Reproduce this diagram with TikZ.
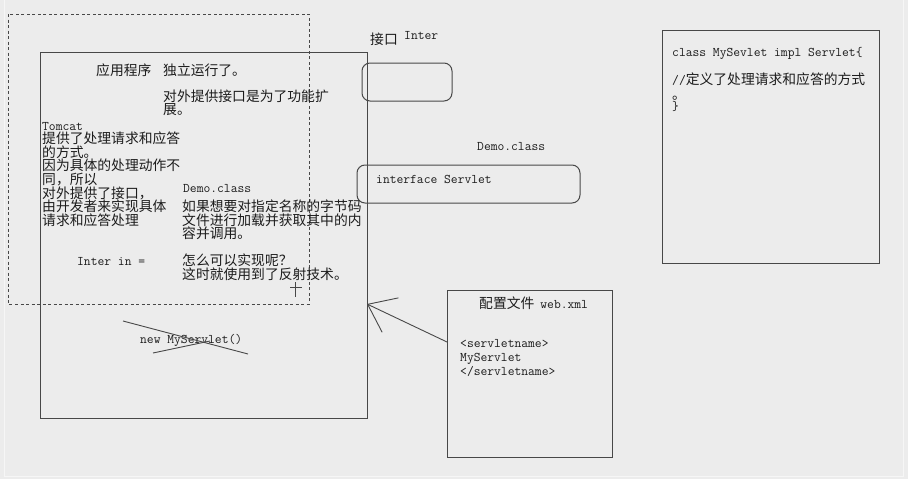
\documentclass[tikz,border=0pt]{standalone}
\usepackage{fontspec}
\newfontfamily\cjk{Noto Sans CJK SC}
\usetikzlibrary{arrows.meta}
\definecolor{bgc}{RGB}{236,236,236}
\definecolor{linec}{RGB}{72,72,72}
\definecolor{txtc}{RGB}{28,28,28}
\newcommand\lat[1]{{\ttfamily\fontsize{13.2}{13.6}\selectfont #1}}
\tikzset{
  box/.style={draw=linec, line width=1pt, inner sep=0pt, outer sep=0pt, anchor=north west},
  rbox/.style={box, rounded corners=8pt},
  zh/.style={inner sep=0pt, anchor=base west, text=txtc, align=left, font=\cjk\fontsize{13.8}{13.6}\selectfont},
  en/.style={inner sep=0pt, anchor=base west, text=txtc, align=left, font=\ttfamily\fontsize{13.2}{14}\selectfont},
}

\begin{document}
\begin{tikzpicture}[x=1pt,y=-1pt]
                \fill[bgc] (0,0) rectangle (908,479);
                \useasboundingbox (0,0) rectangle (908,479);
                \draw[white!55!bgc] (4,-1) rectangle (903,476);
                % dashed frame
                \draw[linec, line width=0.9pt, dash pattern=on 3pt off 2.5pt] (8,14) rectangle (309,304);
                % boxes
                \node[box, minimum width=327pt, minimum height=366pt] (app) at (40,52) {};
                \node[rbox, minimum width=90pt, minimum height=38pt] (inter) at (362,63) {};
                \node[rbox, minimum width=223pt, minimum height=38pt] (servlet) at (357,165) {};
                \node[box, minimum width=165pt, minimum height=167pt] (config) at (447,290) {};
                \node[box, minimum width=217pt, minimum height=233pt] (impl) at (662,30) {};
                % texts in app (base = last line)
                \node[zh] (apptitle) at (96,75.5) {应用程序};
                \node[zh] (run) at (163,75.5) {独立运行了。};
                \node[zh] (ext) at (163,114.6) {对外提供接口是为了功能扩\\展。};
                \node[zh] (tomcat) at (42,225.2) {\lat{Tomcat}\\提供了处理请求和应答\\的方式。\\因为具体的处理动作不\\同，所以\\对外提供了接口，\\由开发者来实现具体\\请求和应答处理};
                \node[en] (demo) at (183,192) {Demo.class};
                \node[zh] (load) at (182,238.7) {如果想要对指定名称的字节码\\文件进行加载并获取其中的内\\容并调用。};
                \node[en] (interin) at (77,265) {Inter in =};
                \node[zh] (how) at (182,279.1) {怎么可以实现呢？\\这时就使用到了反射技术。};
                \node[en] (newobj) at (140,343) {new MyServlet()};
                \draw[linec, line width=0.9pt] (123,321) -- (248,354);
                \draw[linec, line width=0.9pt] (153,353) -- (210,341);
                \draw[linec, line width=0.8pt] (295,282) -- (295,297) (290,287) -- (302,287);
                % interface side
                \node[zh] (jiekou) at (370,44.5) {接口};
                \node[en] (intername) at (404,39) {Inter};
                \node[en] (demo2) at (477,150) {Demo.class};
                \node[en] (iface) at (376,183) {interface Servlet};
                % web.xml
                \node[zh] (cfgtitle) at (479,308.5) {配置文件\hspace{6pt}\lat{web.xml}};
                \node[en] (cfgtext) at (460,375) {<servletname>\\MyServlet\\</servletname>};
                % impl class
                \node[en] (cls) at (672,56) {class MySevlet impl Servlet\{};
                \node[zh] (comment) at (672,84) {\lat{//}定义了处理请求和应答的方式};
                \node[zh] (dot) at (672,99) {。};
                \node[en] (brace) at (672,110) {\}};
                % arrow
                \draw[linec, line width=0.9pt, -{Straight Barb[length=25pt,width=38pt]}] ([yshift=-52pt]config.north west) -- ([yshift=-252pt]app.north east);
            \end{tikzpicture}
\end{document}
